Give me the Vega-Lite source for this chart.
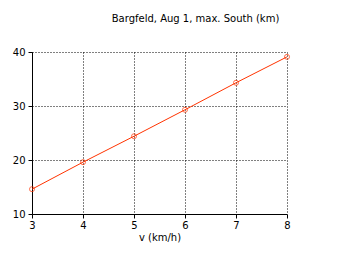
{
  "$schema": "https://vega.github.io/schema/vega-lite/v6.json",
  "width": 255,
  "height": 162,
  "autosize": "none",
  "padding": {"left": 32, "top": 52, "right": 56, "bottom": 44},
  "background": "white",
  "title": {"text": "Bargfeld, Aug 1, max. South (km)", "font": "DejaVu Sans", "fontSize": 10, "fontWeight": "normal", "color": "black", "anchor": "middle", "dx": 36, "offset": 23},
  "config": {"view": {"stroke": null}},
  "data": {"values": [
    {"v": 3, "km": 14.6},
    {"v": 4, "km": 19.6},
    {"v": 5, "km": 24.4},
    {"v": 6, "km": 29.3},
    {"v": 7, "km": 34.3},
    {"v": 8, "km": 39.1}
  ]},
  "encoding": {
    "x": {"field": "v", "type": "quantitative", "scale": {"domain": [3, 8], "nice": false, "zero": false},
      "axis": {"title": "v (km/h)", "values": [3,4,5,6,7,8], "grid": true, "gridColor": "black", "gridDash": [1, 2], "gridOpacity": 1, "domainColor": "black", "tickColor": "black", "tickSize": 4, "labelFont": "DejaVu Sans", "labelFontSize": 10, "labelColor": "black", "titleFont": "DejaVu Sans", "titleFontSize": 10, "titleFontWeight": "normal", "titleColor": "black", "labelPadding": 2, "titlePadding": 2, "labelFlush": false}},
    "y": {"field": "km", "type": "quantitative", "scale": {"domain": [10, 40], "nice": false, "zero": false},
      "axis": {"title": null, "values": [10,20,30,40], "grid": true, "gridColor": "black", "gridDash": [1, 2], "gridOpacity": 1, "domainColor": "black", "tickColor": "black", "tickSize": 4, "labelFont": "DejaVu Sans", "labelFontSize": 10, "labelColor": "black", "labelPadding": 3, "labelFlush": false}}
  },
  "layer": [
    {"mark": {"type": "line", "color": "#ff3300", "strokeWidth": 1}},
    {"mark": {"type": "point", "shape": "circle", "filled": false, "color": "#ff3300", "size": 25, "strokeWidth": 1}}
  ]
}
